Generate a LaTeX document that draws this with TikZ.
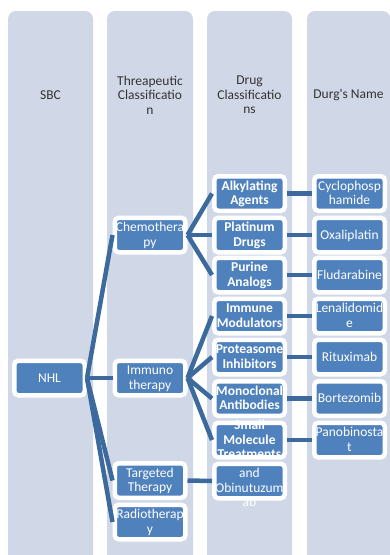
\documentclass[tikz,border=0pt]{standalone}
\usepackage{fontspec}
\setmainfont{Carlito}
\definecolor{panel}{HTML}{D0D8E8}
\definecolor{boxblue}{HTML}{4F81BD}
\definecolor{linkblue}{HTML}{3C6A9C}
\colorlet{headgrey}{black!80}
\newcommand{\boxtext}[1]{\smash{\raisebox{-4.8pt}{\begin{tabular}{@{}c@{}}#1\end{tabular}}}}

\begin{document}
\begin{tikzpicture}[x=1pt, y=-1pt,
  box/.style={fill=boxblue, draw=white, line width=4.5pt, rounded corners=4pt,
    minimum width=70.5pt, minimum height=34.5pt, inner sep=0pt, text=white,
    font=\fontsize{13.5}{14.5}\selectfont},
  boldbox/.style={box, font=\fontsize{13.5}{14.5}\selectfont\bfseries},
  head/.style={text=headgrey, align=center, font=\fontsize{13.5}{14.5}\selectfont},
  link/.style={linkblue, line width=4.5pt}]
\clip (0,0) rectangle (390,555);
% columns
\fill[panel, rounded corners=8pt] (8,11) rectangle (93,580);
\fill[panel, rounded corners=8pt] (107,11) rectangle (193,580);
\fill[panel, rounded corners=8pt] (207,11) rectangle (292,580);
\fill[panel, rounded corners=8pt] (307,11) rectangle (390.5,580);
\node[head] (h1) at (50.5,95) {SBC};
\node[head] (h2) at (150,95) {Threapeutic\\Classificatio\\n};
\node[head] (h3) at (249.5,95) {Drug\\Classificatio\\ns};
\node[head] (h4) at (348.5,95) {Durg\textquotesingle s Name};
% level 1 and 2
\node[box] (nhl) at (49.5,378) {\boxtext{NHL}};
\node[box] (chemo) at (150,235) {\boxtext{Chemothera\\py}};
\node[box] (immuno) at (150,378) {\boxtext{Immuno\\therapy}};
\node[box] (targeted) at (150,480.5) {\boxtext{Targeted\\Therapy}};
\node[box] (radio) at (150,522) {\boxtext{Radiotherap\\y}};
% drug classes
\node[boldbox] (alkyl) at (249.5,193.5) {\boxtext{Alkylating\\Agents}};
\node[boldbox] (platin) at (249.5,235) {\boxtext{Platinum\\Drugs}};
\node[boldbox] (purine) at (249.5,275) {\boxtext{Purine\\Analogs}};
\node[boldbox] (immune) at (249.5,316) {\boxtext{Immune\\Modulators}};
\node[boldbox] (protea) at (249.5,357) {\boxtext{Proteasome\\Inhibitors}};
\node[boldbox] (mono) at (249.5,398.5) {\boxtext{Monoclonal\\Antibodies}};
\node[boldbox] (small) at (249.5,440) {\boxtext{Small\\Molecule\\Treatments}};
\node[box] (obinu) at (249.5,481) {\boxtext{\\and\\Obinutuzum\\ab}};
% drug names
\node[box] (cyclo) at (349.5,193.5) {\boxtext{Cyclophosp\\hamide}};
\node[box] (oxali) at (349.5,235) {\boxtext{Oxaliplatin}};
\node[box] (fluda) at (349.5,275) {\boxtext{Fludarabine}};
\node[box] (lenal) at (349.5,316) {\boxtext{Lenalidomid\\e}};
\node[box] (ritux) at (349.5,357) {\boxtext{Rituximab}};
\node[box] (bortez) at (349.5,398.5) {\boxtext{Bortezomib}};
\node[box] (panob) at (349.5,440) {\boxtext{Panobinosta\\t}};
% connectors
\draw[link] (nhl.east) -- (chemo.west);
\draw[link] (nhl.east) -- (immuno.west);
\draw[link] (nhl.east) -- (targeted.west);
\draw[link] (nhl.east) -- (radio.west);
\draw[link] (chemo.east) -- (alkyl.west);
\draw[link] (chemo.east) -- (platin.west);
\draw[link] (chemo.east) -- (purine.west);
\draw[link] (immuno.east) -- (immune.west);
\draw[link] (immuno.east) -- (protea.west);
\draw[link] (immuno.east) -- (mono.west);
\draw[link] (immuno.east) -- (small.west);
\draw[link] (targeted.east) -- (obinu.west);
\draw[link] (alkyl.east) -- (cyclo.west);
\draw[link] (platin.east) -- (oxali.west);
\draw[link] (purine.east) -- (fluda.west);
\draw[link] (immune.east) -- (lenal.west);
\draw[link] (protea.east) -- (ritux.west);
\draw[link] (mono.east) -- (bortez.west);
\draw[link] (small.east) -- (panob.west);
\end{tikzpicture}
\end{document}
